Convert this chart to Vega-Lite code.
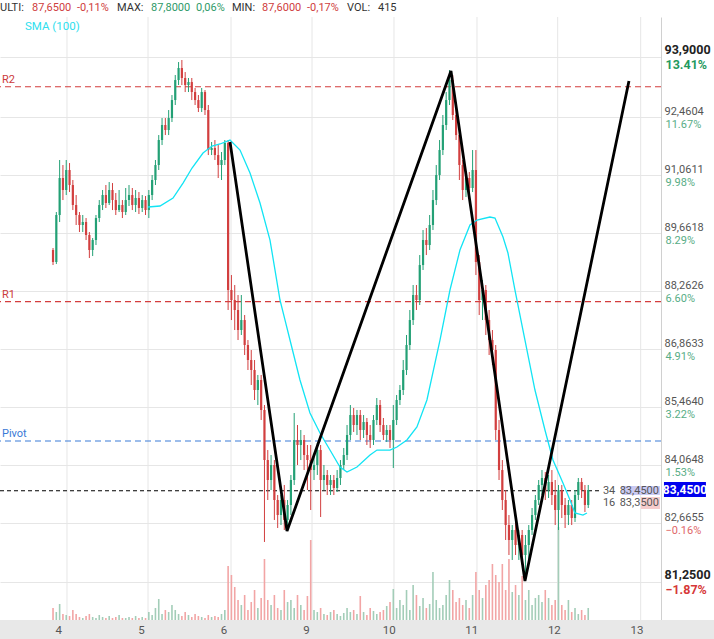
{
"$schema": "https://vega.github.io/schema/vega-lite/v6.json",
"width": 661, "height": 603, "autosize": "none",
"padding": {"left": 0, "top": 17, "right": 53, "bottom": 19},
"background": "#ffffff",
"config": {"view": {"stroke": null}, "font": "Roboto"},
"data": {"values": [{}]},
"datasets": {
"grid": [{"g":0.105},{"g":1.086},{"g":2.091},{"g":3.072},{"g":4.064},{"g":5.069},{"g":6.046},{"g":7.051}],
"levels": [{"name":"R2","p":93.19},{"name":"R1","p":88.01},{"name":"Pivot","p":84.649}],
"zig": [{"t":2.079,"p":91.858},{"t":2.769,"p":82.48},{"t":4.754,"p":93.569},{"t":5.65,"p":81.274},{"t":6.909,"p":93.328}],
"sma": [{"t":1.086,"s":90.291},{"t":1.231,"s":90.315},{"t":1.389,"s":90.508},{"t":1.51,"s":90.869},{"t":1.619,"s":91.231},{"t":1.752,"s":91.593},{"t":1.861,"s":91.761},{"t":1.958,"s":91.81},{"t":2.079,"s":91.906},{"t":2.2,"s":91.665},{"t":2.321,"s":91.11},{"t":2.442,"s":90.387},{"t":2.563,"s":89.495},{"t":2.684,"s":88.049},{"t":2.745,"s":87.566},{"t":2.805,"s":87.084},{"t":2.926,"s":86.12},{"t":3.047,"s":85.324},{"t":3.168,"s":84.843},{"t":3.289,"s":84.432},{"t":3.41,"s":84.023},{"t":3.495,"s":83.902},{"t":3.616,"s":84.023},{"t":3.774,"s":84.312},{"t":3.858,"s":84.432},{"t":4.016,"s":84.432},{"t":4.1,"s":84.505},{"t":4.221,"s":84.674},{"t":4.342,"s":84.987},{"t":4.463,"s":85.638},{"t":4.621,"s":87.084},{"t":4.742,"s":88.29},{"t":4.863,"s":89.254},{"t":4.984,"s":89.857},{"t":5.069,"s":89.977},{"t":5.226,"s":90.05},{"t":5.287,"s":90.025},{"t":5.384,"s":89.567},{"t":5.444,"s":89.182},{"t":5.529,"s":88.29},{"t":5.65,"s":87.084},{"t":5.771,"s":85.879},{"t":5.892,"s":84.915},{"t":5.989,"s":84.191},{"t":6.11,"s":83.637},{"t":6.195,"s":83.227},{"t":6.255,"s":82.914},{"t":6.352,"s":82.865},{"t":6.401,"s":82.914}],
"candles": [
{"t":-0.064,"o":89.254,"h":89.302,"l":88.892,"c":88.965,"v":120},
{"t":-0.024,"o":88.965,"h":90.17,"l":88.916,"c":90.098,"v":80},
{"t":0.016,"o":90.098,"h":91.424,"l":89.929,"c":90.99,"v":160},
{"t":0.056,"o":90.99,"h":91.303,"l":90.459,"c":90.701,"v":60},
{"t":0.096,"o":90.701,"h":91.424,"l":90.58,"c":91.183,"v":50},
{"t":0.136,"o":91.183,"h":91.351,"l":90.652,"c":90.821,"v":40},
{"t":0.176,"o":90.821,"h":90.942,"l":90.218,"c":90.339,"v":100},
{"t":0.216,"o":90.339,"h":90.58,"l":89.857,"c":90.098,"v":60},
{"t":0.256,"o":90.098,"h":90.17,"l":89.688,"c":89.857,"v":30},
{"t":0.296,"o":89.857,"h":90.098,"l":89.688,"c":89.929,"v":20},
{"t":0.336,"o":89.929,"h":90.025,"l":89.495,"c":89.616,"v":40},
{"t":0.376,"o":89.616,"h":89.688,"l":89.061,"c":89.254,"v":60},
{"t":0.416,"o":89.254,"h":89.543,"l":89.109,"c":89.495,"v":30},
{"t":0.456,"o":89.495,"h":90.098,"l":89.375,"c":90.025,"v":20},
{"t":0.496,"o":90.025,"h":90.459,"l":89.929,"c":90.339,"v":50},
{"t":0.536,"o":90.339,"h":90.701,"l":90.218,"c":90.58,"v":30},
{"t":0.576,"o":90.58,"h":90.821,"l":90.267,"c":90.387,"v":20},
{"t":0.616,"o":90.387,"h":90.893,"l":90.339,"c":90.701,"v":40},
{"t":0.656,"o":90.701,"h":90.869,"l":90.218,"c":90.459,"v":20},
{"t":0.696,"o":90.459,"h":90.628,"l":90.098,"c":90.218,"v":30},
{"t":0.736,"o":90.218,"h":90.701,"l":90.17,"c":90.339,"v":50},
{"t":0.776,"o":90.339,"h":90.459,"l":90.025,"c":90.17,"v":20},
{"t":0.816,"o":90.17,"h":90.749,"l":90.098,"c":90.459,"v":20},
{"t":0.856,"o":90.459,"h":90.821,"l":90.315,"c":90.58,"v":30},
{"t":0.896,"o":90.58,"h":90.749,"l":90.218,"c":90.339,"v":20},
{"t":0.936,"o":90.339,"h":90.701,"l":90.17,"c":90.508,"v":40},
{"t":0.976,"o":90.508,"h":90.652,"l":90.122,"c":90.267,"v":20},
{"t":1.016,"o":90.267,"h":90.58,"l":90.17,"c":90.459,"v":30},
{"t":1.056,"o":90.459,"h":90.556,"l":90.098,"c":90.218,"v":20},
{"t":1.096,"o":90.218,"h":90.701,"l":90.025,"c":90.58,"v":80},
{"t":1.136,"o":90.58,"h":91.062,"l":90.459,"c":90.942,"v":50},
{"t":1.176,"o":90.942,"h":91.424,"l":90.821,"c":91.303,"v":120},
{"t":1.216,"o":91.303,"h":92.026,"l":91.183,"c":91.906,"v":210},
{"t":1.256,"o":91.906,"h":92.436,"l":91.785,"c":92.268,"v":60},
{"t":1.296,"o":92.268,"h":92.436,"l":92.026,"c":92.147,"v":100},
{"t":1.336,"o":92.147,"h":92.629,"l":92.026,"c":92.436,"v":80},
{"t":1.376,"o":92.436,"h":92.991,"l":92.34,"c":92.87,"v":150},
{"t":1.416,"o":92.87,"h":93.473,"l":92.75,"c":93.352,"v":100},
{"t":1.456,"o":93.352,"h":93.786,"l":93.232,"c":93.642,"v":60},
{"t":1.496,"o":93.642,"h":93.835,"l":93.232,"c":93.401,"v":40},
{"t":1.536,"o":93.401,"h":93.545,"l":93.063,"c":93.232,"v":80},
{"t":1.576,"o":93.232,"h":93.401,"l":93.063,"c":93.304,"v":50},
{"t":1.616,"o":93.304,"h":93.401,"l":92.87,"c":93.063,"v":30},
{"t":1.656,"o":93.063,"h":93.16,"l":92.75,"c":92.87,"v":60},
{"t":1.696,"o":92.87,"h":92.991,"l":92.581,"c":92.677,"v":40},
{"t":1.736,"o":92.677,"h":93.16,"l":92.581,"c":93.063,"v":30},
{"t":1.776,"o":93.063,"h":93.111,"l":92.509,"c":92.629,"v":20},
{"t":1.816,"o":92.629,"h":92.75,"l":91.544,"c":91.665,"v":50},
{"t":1.856,"o":91.665,"h":91.858,"l":91.544,"c":91.713,"v":30},
{"t":1.896,"o":91.713,"h":91.906,"l":91.424,"c":91.544,"v":40},
{"t":1.936,"o":91.544,"h":91.785,"l":90.99,"c":91.303,"v":30},
{"t":1.976,"o":91.303,"h":91.617,"l":90.942,"c":91.424,"v":60},
{"t":2.016,"o":91.424,"h":91.906,"l":91.303,"c":91.834,"v":100},
{"t":2.056,"o":91.834,"h":91.906,"l":87.808,"c":88.29,"v":540},
{"t":2.096,"o":88.29,"h":88.651,"l":87.566,"c":88.049,"v":450},
{"t":2.136,"o":88.049,"h":88.41,"l":87.325,"c":87.808,"v":330},
{"t":2.176,"o":87.808,"h":88.169,"l":87.084,"c":87.325,"v":200},
{"t":2.216,"o":87.325,"h":88.169,"l":87.205,"c":87.566,"v":150},
{"t":2.256,"o":87.566,"h":87.687,"l":86.723,"c":86.964,"v":250},
{"t":2.296,"o":86.964,"h":87.084,"l":86.361,"c":86.602,"v":100},
{"t":2.336,"o":86.602,"h":86.843,"l":86.0,"c":86.361,"v":180},
{"t":2.376,"o":86.361,"h":86.602,"l":85.638,"c":85.879,"v":300},
{"t":2.416,"o":85.879,"h":86.241,"l":85.517,"c":86.12,"v":120},
{"t":2.456,"o":86.12,"h":86.241,"l":85.156,"c":85.397,"v":220},
{"t":2.496,"o":85.397,"h":85.517,"l":82.215,"c":84.191,"v":610},
{"t":2.536,"o":84.191,"h":84.432,"l":83.227,"c":83.709,"v":200},
{"t":2.576,"o":83.709,"h":84.312,"l":83.468,"c":84.071,"v":150},
{"t":2.616,"o":84.071,"h":84.191,"l":82.745,"c":83.227,"v":250},
{"t":2.656,"o":83.227,"h":83.347,"l":82.552,"c":82.865,"v":120},
{"t":2.696,"o":82.865,"h":83.347,"l":82.624,"c":83.227,"v":100},
{"t":2.736,"o":83.227,"h":83.589,"l":82.504,"c":82.745,"v":300},
{"t":2.776,"o":82.745,"h":83.227,"l":82.504,"c":83.106,"v":180},
{"t":2.816,"o":83.106,"h":83.83,"l":82.865,"c":83.709,"v":200},
{"t":2.856,"o":83.709,"h":85.324,"l":83.589,"c":84.674,"v":120},
{"t":2.896,"o":84.674,"h":85.035,"l":84.071,"c":84.553,"v":250},
{"t":2.936,"o":84.553,"h":84.915,"l":84.191,"c":84.674,"v":150},
{"t":2.976,"o":84.674,"h":84.794,"l":83.95,"c":84.312,"v":100},
{"t":3.016,"o":84.312,"h":84.553,"l":83.468,"c":84.191,"v":240},
{"t":3.056,"o":84.191,"h":84.553,"l":82.986,"c":83.95,"v":800},
{"t":3.096,"o":83.95,"h":84.312,"l":83.709,"c":84.071,"v":100},
{"t":3.136,"o":84.071,"h":84.601,"l":83.83,"c":84.432,"v":80},
{"t":3.176,"o":84.432,"h":84.553,"l":82.817,"c":83.709,"v":120},
{"t":3.216,"o":83.709,"h":84.071,"l":83.468,"c":83.83,"v":60},
{"t":3.256,"o":83.83,"h":83.95,"l":83.347,"c":83.589,"v":50},
{"t":3.296,"o":83.589,"h":83.83,"l":83.347,"c":83.709,"v":80},
{"t":3.336,"o":83.709,"h":83.83,"l":83.347,"c":83.516,"v":100},
{"t":3.376,"o":83.516,"h":83.95,"l":83.42,"c":83.757,"v":60},
{"t":3.416,"o":83.757,"h":84.191,"l":83.589,"c":84.071,"v":40},
{"t":3.456,"o":84.071,"h":84.481,"l":83.95,"c":84.312,"v":70},
{"t":3.496,"o":84.312,"h":85.035,"l":84.191,"c":84.794,"v":120},
{"t":3.536,"o":84.794,"h":85.517,"l":84.674,"c":85.276,"v":80},
{"t":3.576,"o":85.276,"h":85.445,"l":84.867,"c":85.035,"v":100},
{"t":3.616,"o":85.035,"h":85.397,"l":84.794,"c":85.276,"v":60},
{"t":3.656,"o":85.276,"h":85.397,"l":84.674,"c":84.915,"v":240},
{"t":3.696,"o":84.915,"h":85.276,"l":84.722,"c":85.108,"v":80},
{"t":3.736,"o":85.108,"h":85.204,"l":84.553,"c":84.794,"v":50},
{"t":3.776,"o":84.794,"h":85.035,"l":84.481,"c":84.674,"v":120},
{"t":3.816,"o":84.674,"h":85.276,"l":84.553,"c":85.156,"v":90},
{"t":3.856,"o":85.156,"h":85.686,"l":85.035,"c":85.517,"v":60},
{"t":3.896,"o":85.517,"h":85.638,"l":84.867,"c":85.035,"v":80},
{"t":3.936,"o":85.035,"h":85.204,"l":84.674,"c":84.794,"v":100},
{"t":3.976,"o":84.794,"h":85.035,"l":84.626,"c":84.915,"v":140},
{"t":4.016,"o":84.915,"h":85.035,"l":84.481,"c":84.674,"v":180},
{"t":4.056,"o":84.674,"h":85.517,"l":83.999,"c":85.156,"v":310},
{"t":4.096,"o":85.156,"h":85.758,"l":85.035,"c":85.638,"v":120},
{"t":4.136,"o":85.638,"h":86.0,"l":85.517,"c":85.879,"v":200},
{"t":4.176,"o":85.879,"h":86.602,"l":85.758,"c":86.361,"v":150},
{"t":4.216,"o":86.361,"h":87.205,"l":86.241,"c":86.964,"v":300},
{"t":4.256,"o":86.964,"h":87.808,"l":86.843,"c":87.566,"v":100},
{"t":4.296,"o":87.566,"h":88.41,"l":87.446,"c":88.169,"v":350},
{"t":4.336,"o":88.169,"h":88.41,"l":87.808,"c":88.049,"v":250},
{"t":4.376,"o":88.049,"h":89.133,"l":87.928,"c":88.892,"v":140},
{"t":4.416,"o":88.892,"h":89.736,"l":88.772,"c":89.495,"v":220},
{"t":4.456,"o":89.495,"h":89.784,"l":89.133,"c":89.375,"v":120},
{"t":4.496,"o":89.375,"h":90.098,"l":89.254,"c":89.857,"v":160},
{"t":4.536,"o":89.857,"h":90.701,"l":89.736,"c":90.459,"v":480},
{"t":4.576,"o":90.459,"h":91.303,"l":90.339,"c":91.062,"v":200},
{"t":4.616,"o":91.062,"h":91.906,"l":90.942,"c":91.665,"v":120},
{"t":4.656,"o":91.665,"h":92.509,"l":91.544,"c":92.268,"v":150},
{"t":4.696,"o":92.268,"h":93.063,"l":92.147,"c":92.87,"v":250},
{"t":4.736,"o":92.87,"h":93.593,"l":92.75,"c":93.352,"v":400},
{"t":4.776,"o":93.352,"h":93.473,"l":92.388,"c":92.509,"v":300},
{"t":4.816,"o":92.509,"h":92.75,"l":91.906,"c":92.026,"v":180},
{"t":4.856,"o":92.026,"h":92.147,"l":90.942,"c":91.303,"v":220},
{"t":4.896,"o":91.303,"h":91.424,"l":90.459,"c":90.701,"v":150},
{"t":4.936,"o":90.701,"h":91.134,"l":90.532,"c":90.99,"v":200},
{"t":4.976,"o":90.99,"h":91.134,"l":90.58,"c":90.749,"v":120},
{"t":5.016,"o":90.749,"h":91.665,"l":90.652,"c":91.183,"v":250},
{"t":5.056,"o":91.183,"h":91.665,"l":88.651,"c":88.965,"v":480},
{"t":5.096,"o":88.965,"h":89.133,"l":87.687,"c":88.049,"v":300},
{"t":5.136,"o":88.049,"h":88.531,"l":87.566,"c":88.29,"v":220},
{"t":5.176,"o":88.29,"h":88.41,"l":87.205,"c":87.566,"v":350},
{"t":5.216,"o":87.566,"h":87.808,"l":86.723,"c":87.084,"v":400},
{"t":5.256,"o":87.084,"h":87.325,"l":86.482,"c":86.843,"v":560},
{"t":5.296,"o":86.843,"h":86.964,"l":84.674,"c":84.915,"v":450},
{"t":5.336,"o":84.915,"h":85.156,"l":83.709,"c":83.95,"v":380},
{"t":5.376,"o":83.95,"h":84.191,"l":82.986,"c":83.227,"v":560},
{"t":5.416,"o":83.227,"h":83.468,"l":82.263,"c":82.624,"v":300},
{"t":5.456,"o":82.624,"h":82.865,"l":81.901,"c":82.263,"v":610},
{"t":5.496,"o":82.263,"h":82.624,"l":81.781,"c":82.504,"v":280},
{"t":5.536,"o":82.504,"h":82.745,"l":81.901,"c":82.142,"v":350},
{"t":5.576,"o":82.142,"h":82.504,"l":81.781,"c":82.383,"v":250},
{"t":5.616,"o":82.383,"h":82.504,"l":81.66,"c":81.901,"v":440},
{"t":5.656,"o":81.901,"h":82.383,"l":81.298,"c":82.142,"v":200},
{"t":5.696,"o":82.142,"h":82.624,"l":81.781,"c":82.504,"v":300},
{"t":5.736,"o":82.504,"h":83.034,"l":82.383,"c":82.865,"v":150},
{"t":5.776,"o":82.865,"h":83.347,"l":82.745,"c":83.227,"v":220},
{"t":5.816,"o":83.227,"h":83.709,"l":83.106,"c":83.589,"v":250},
{"t":5.856,"o":83.589,"h":83.95,"l":83.347,"c":83.757,"v":180},
{"t":5.896,"o":83.757,"h":83.902,"l":83.227,"c":83.468,"v":300},
{"t":5.936,"o":83.468,"h":83.83,"l":83.275,"c":83.661,"v":220},
{"t":5.976,"o":83.661,"h":83.95,"l":83.106,"c":83.347,"v":150},
{"t":6.016,"o":83.347,"h":83.709,"l":82.624,"c":82.986,"v":200},
{"t":6.056,"o":82.986,"h":83.589,"l":82.504,"c":83.468,"v":930},
{"t":6.096,"o":83.468,"h":83.589,"l":82.793,"c":83.106,"v":150},
{"t":6.136,"o":83.106,"h":83.275,"l":82.552,"c":82.865,"v":100},
{"t":6.176,"o":82.865,"h":83.227,"l":82.624,"c":83.106,"v":200},
{"t":6.216,"o":83.106,"h":83.227,"l":82.624,"c":82.793,"v":80},
{"t":6.256,"o":82.793,"h":83.468,"l":82.697,"c":83.347,"v":120},
{"t":6.296,"o":83.347,"h":83.757,"l":83.227,"c":83.661,"v":60},
{"t":6.336,"o":83.661,"h":83.757,"l":83.275,"c":83.468,"v":100},
{"t":6.376,"o":83.468,"h":83.589,"l":82.938,"c":83.106,"v":50},
{"t":6.416,"o":83.106,"h":83.589,"l":83.034,"c":83.468,"v":120}
]
},
"layer": [
{"layer": [
  {"data": {"name": "grid"}, "mark": {"type": "rule", "color": "#e6e6e6", "strokeWidth": 1},
   "encoding": {"x": {"field": "g", "type": "quantitative", "scale": {"domain": [-0.706, 7.297], "nice": false, "zero": false, "padding": 0},
     "axis": {"values": [0,1,2,3,4,5,6,7], "labelExpr": "['4','5','6','9','10','11','12','13'][datum.value]", "grid": false, "ticks": false, "tickSize": 0, "domain": false, "labelColor": "#555555", "labelFontSize": 11.5, "labelPadding": 4, "labelFlush": false, "labelOverlap": false, "zindex": 1, "title": null}}}},
  {"data": {"name": "candles"}, "mark": {"type": "bar", "width": 1.6},
   "encoding": {"x": {"field": "t", "type": "quantitative"},
     "y": {"field": "v", "type": "quantitative", "scale": {"domain": [0, 6030], "nice": false}, "axis": null},
     "color": {"condition": {"test": "datum.c >= datum.o", "value": "#a3cdb8"}, "value": "#f2a5a5"}}}
]},
{"layer": [
  {"data": {"name": "levels"}, "mark": {"type": "rule", "strokeWidth": 1.2, "strokeDash": [6, 4]},
   "encoding": {"y": {"field": "p", "type": "quantitative", "scale": {"domain": [80.334, 94.872], "nice": false, "zero": false},
     "axis": {"orient": "right", "values": [81.25, 82.6655, 84.0648, 85.464, 86.8633, 88.2626, 89.6618, 91.0611, 92.4604, 93.9],
       "labelExpr": "replace(format(datum.value, '.4f'), '.', ',')",
       "grid": true, "gridColor": "#e6e6e6", "ticks": false, "tickSize": 0, "domain": true, "domainColor": "#d0d0d0",
       "labelBaseline": "bottom", "labelAlign": "left", "labelPadding": 3, "labelOffset": -1, "labelOverlap": false, "labelFlush": false, "title": null,
       "labelFontSize": {"condition": {"test": "datum.value > 93 || datum.value < 81.5", "value": 12.5}, "value": 11},
       "labelFontWeight": {"condition": {"test": "datum.value > 93 || datum.value < 81.5", "value": "bold"}, "value": "normal"},
       "labelColor": {"condition": {"test": "datum.value > 93 || datum.value < 81.5", "value": "#222222"}, "value": "#555555"}}},
     "color": {"condition": {"test": "datum.name == 'Pivot'", "value": "#3b7dd8"}, "value": "#d43d3d"}}},
  {"mark": {"type": "rule", "color": "#000000", "strokeWidth": 1.2, "strokeDash": [4, 3]},
   "encoding": {"x": {"datum": -0.706}, "x2": {"datum": 6.56}, "y": {"datum": 83.45}}},
  {"data": {"name": "candles"}, "mark": {"type": "rule", "strokeWidth": 1},
   "encoding": {"x": {"field": "t", "type": "quantitative"}, "y": {"field": "l", "type": "quantitative"}, "y2": {"field": "h"},
     "color": {"condition": {"test": "datum.c >= datum.o", "value": "#23a075"}, "value": "#d23f3f"}}},
  {"data": {"name": "candles"}, "mark": {"type": "bar", "width": 2.2},
   "encoding": {"x": {"field": "t", "type": "quantitative"}, "y": {"field": "o", "type": "quantitative"}, "y2": {"field": "c"},
     "color": {"condition": {"test": "datum.c >= datum.o", "value": "#23a075"}, "value": "#d23f3f"}}},
  {"data": {"name": "sma"}, "mark": {"type": "line", "color": "#12e4f4", "strokeWidth": 1.3},
   "encoding": {"x": {"field": "t", "type": "quantitative"}, "y": {"field": "s", "type": "quantitative"}}},
  {"data": {"name": "zig"}, "mark": {"type": "line", "color": "#000000", "strokeWidth": 2.8},
   "encoding": {"x": {"field": "t", "type": "quantitative"}, "y": {"field": "p", "type": "quantitative"}}},
  {"data": {"name": "levels"}, "mark": {"type": "text", "align": "left", "baseline": "alphabetic", "dy": -4, "fontSize": 11},
   "encoding": {"x": {"datum": -0.682}, "y": {"field": "p", "type": "quantitative"}, "text": {"field": "name"},
     "color": {"condition": {"test": "datum.name == 'Pivot'", "value": "#3a7ad6"}, "value": "#cc3b3b"}}},
  {"mark": {"type": "rect", "color": "#e8e8e8"},
   "encoding": {"x": {"datum": -0.706}, "x2": {"datum": 7.95}, "y": {"datum": 80.334}, "y2": {"datum": 79.85}}},
  {"mark": {"type": "text", "align": "left", "baseline": "middle", "fontSize": 11.5, "color": "#2fe0ee"},
   "encoding": {"x": {"datum": -0.403}, "y": {"datum": 94.63}, "text": {"value": "SMA (100)"}}},
  {"mark": {"type": "rect", "color": "#cacaf3"},
   "encoding": {"x": {"datum": 6.824}, "x2": {"datum": 7.284}, "y": {"datum": 83.565}, "y2": {"datum": 83.347}}},
  {"mark": {"type": "rect", "color": "#f6cccc"},
   "encoding": {"x": {"datum": 7.054}, "x2": {"datum": 7.284}, "y": {"datum": 83.299}, "y2": {"datum": 83.01}}},
  {"mark": {"type": "text", "align": "left", "baseline": "middle", "fontSize": 11, "color": "#555555"},
   "encoding": {"x": {"datum": 6.594}, "y": {"datum": 83.444}, "text": {"value": "34"}}},
  {"mark": {"type": "text", "align": "right", "baseline": "middle", "fontSize": 11, "color": "#555555"},
   "encoding": {"x": {"datum": 7.272}, "y": {"datum": 83.444}, "text": {"value": "83,4500"}}},
  {"mark": {"type": "text", "align": "left", "baseline": "middle", "fontSize": 11, "color": "#555555"},
   "encoding": {"x": {"datum": 6.594}, "y": {"datum": 83.155}, "text": {"value": "16"}}},
  {"mark": {"type": "text", "align": "right", "baseline": "middle", "fontSize": 11, "color": "#555555"},
   "encoding": {"x": {"datum": 7.272}, "y": {"datum": 83.155}, "text": {"value": "83,3500"}}},
  {"mark": {"type": "rect", "color": "#0000ee"},
   "encoding": {"x": {"datum": 7.333}, "x2": {"datum": 7.841}, "y": {"datum": 83.661}, "y2": {"datum": 83.299}}},
  {"mark": {"type": "text", "align": "center", "baseline": "middle", "fontSize": 12, "fontWeight": "bold", "color": "#ffffff"},
   "encoding": {"x": {"datum": 7.587}, "y": {"datum": 83.48}, "text": {"value": "83,4500"}}},
  {"mark": {"type": "text", "align": "left", "baseline": "middle", "fontSize": 11, "color": "#333333"},
   "encoding": {"x": {"datum": -0.706}, "y": {"datum": 95.088}, "text": {"value": "ULTI:"}}},
  {"mark": {"type": "text", "align": "left", "baseline": "middle", "fontSize": 11, "color": "#cf4040"},
   "encoding": {"x": {"datum": -0.318}, "y": {"datum": 95.088}, "text": {"value": "87,6500"}}},
  {"mark": {"type": "text", "align": "left", "baseline": "middle", "fontSize": 11, "color": "#cf4040"},
   "encoding": {"x": {"datum": 0.226}, "y": {"datum": 95.088}, "text": {"value": "-0,11%"}}},
  {"mark": {"type": "text", "align": "left", "baseline": "middle", "fontSize": 11, "color": "#333333"},
   "encoding": {"x": {"datum": 0.711}, "y": {"datum": 95.088}, "text": {"value": "MAX:"}}},
  {"mark": {"type": "text", "align": "left", "baseline": "middle", "fontSize": 11, "color": "#2f9a68"},
   "encoding": {"x": {"datum": 1.122}, "y": {"datum": 95.088}, "text": {"value": "87,8000"}}},
  {"mark": {"type": "text", "align": "left", "baseline": "middle", "fontSize": 11, "color": "#2f9a68"},
   "encoding": {"x": {"datum": 1.667}, "y": {"datum": 95.088}, "text": {"value": "0,06%"}}},
  {"mark": {"type": "text", "align": "left", "baseline": "middle", "fontSize": 11, "color": "#333333"},
   "encoding": {"x": {"datum": 2.103}, "y": {"datum": 95.088}, "text": {"value": "MIN:"}}},
  {"mark": {"type": "text", "align": "left", "baseline": "middle", "fontSize": 11, "color": "#cf4040"},
   "encoding": {"x": {"datum": 2.466}, "y": {"datum": 95.088}, "text": {"value": "87,6000"}}},
  {"mark": {"type": "text", "align": "left", "baseline": "middle", "fontSize": 11, "color": "#cf4040"},
   "encoding": {"x": {"datum": 3.011}, "y": {"datum": 95.088}, "text": {"value": "-0,17%"}}},
  {"mark": {"type": "text", "align": "left", "baseline": "middle", "fontSize": 11, "color": "#333333"},
   "encoding": {"x": {"datum": 3.495}, "y": {"datum": 95.088}, "text": {"value": "VOL:"}}},
  {"mark": {"type": "text", "align": "left", "baseline": "middle", "fontSize": 11, "color": "#333333"},
   "encoding": {"x": {"datum": 3.87}, "y": {"datum": 95.088}, "text": {"value": "415"}}}
]},
{"mark": {"type": "rule", "opacity": 0},
 "encoding": {"y": {"datum": 88, "type": "quantitative", "scale": {"domain": [80.334, 94.872], "nice": false, "zero": false},
   "axis": {"orient": "right", "values": [81.25, 82.6655, 84.0648, 85.464, 86.8633, 88.2626, 89.6618, 91.0611, 92.4604, 93.9],
     "labelExpr": "format((datum.value / 82.797 - 1) * 100, '.2f') + '%'",
     "grid": false, "ticks": false, "tickSize": 0, "domain": false,
     "labelBaseline": "top", "labelAlign": "left", "labelPadding": 4, "labelOffset": 1, "labelOverlap": false, "labelFlush": false, "title": null,
     "labelFontSize": {"condition": {"test": "datum.value > 93 || datum.value < 81.5", "value": 12.5}, "value": 11},
     "labelFontWeight": {"condition": {"test": "datum.value > 93 || datum.value < 81.5", "value": "bold"}, "value": "normal"},
     "labelColor": {"condition": [{"test": "datum.value > 93", "value": "#1f9a5e"}, {"test": "datum.value < 81.5", "value": "#d63838"}, {"test": "datum.value < 82.797", "value": "#e06868"}], "value": "#58ad86"}}}}}
],
"resolve": {"scale": {"y": "independent"}, "axis": {"y": "independent"}}
}
